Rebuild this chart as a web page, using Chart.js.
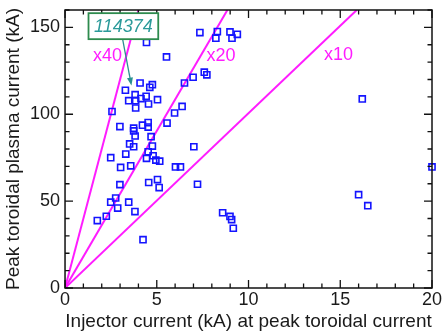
<!DOCTYPE html>
<html><head><meta charset="utf-8">
<script src="https://cdn.jsdelivr.net/npm/chart.js@4"></script>
<style>html,body{margin:0;padding:0;background:#fff}#wrap{width:448px;height:331px}</style>
</head><body><div id="wrap"><canvas id="c" width="448" height="331"></canvas></div>
<script>
// Injector current (kA) at peak toroidal current
const shotX = [4.44,5.53,7.35,8.3,8.22,8.99,9.39,9.1,7.59,7.73,6.98,6.51,4.09,4.76,4.62,3.29,3.82,4.42,4.14,3.47,3.85,5.04,4.55,3.85,2.56,6.38,5.97,5.56,2.99,4.22,4.53,4.53,3.74,3.74,3.82,4.69,3.52,3.74,4.76,7.02,4.53,3.31,2.49,4.44,4.8,4.95,5.16,3.03,3.58,6.02,6.29,2.99,4.56,5.04,5.13,7.22,2.76,2.49,3.47,2.87,3.81,2.25,1.76,4.25,8.59,8.99,9.08,9.17,16.2,20.0,16.0,16.5];
// Peak toroidal plasma current (kA)
const shotY = [141.3,133,147,147.6,143.8,147.4,146,143.8,124.2,122.7,121.3,118,118,117,115.5,113.8,111.3,110.3,109,107.8,107.8,108.4,105.9,103.6,101.6,104.5,100.7,94.9,92.9,93.7,95.2,92.6,92,90.4,87.5,87.1,82.9,81.3,81.7,81.3,78.4,77.1,75,74.6,76.1,73.6,73,69.4,70.3,69.7,69.7,59.5,60.7,62.4,57.8,59.7,51.8,49.4,49.4,46,44,41.3,38.8,27.8,43.3,41.2,39.4,34.4,108.8,69.7,53.7,47.4];
const xTickValues = [0,5,10,15,20];
const yTickValues = [0,50,100,150];
// gain lines (as drawn in the figure)
const ratioLabels = ['x10','x20','x40'];
const ratioEndX = [15.9, 8.85, 4.0];
const ratioEndY = [160, 160, 160];

// annotation anchors (data coordinates)
const ratioLabelPos = [[14.9,134],[8.5,133.3],[2.32,133.3]];
const annotText = '114374';
const annotCenter = [3.18,150.7];
const annotArrowFrom = [3.13,143.6];
const annotArrowTo = [3.62,116.5];

const FONT = '"Liberation Sans", Arial, sans-serif';
const MAGENTA = '#ff1cff';

const points = shotX.map((v,i)=>({x:v,y:shotY[i]}));
const lineSets = ratioLabels.map((lab,i)=>({
  type:'line', label:lab,
  data:[{x:0,y:0},{x:ratioEndX[i],y:ratioEndY[i]}],
  borderColor:MAGENTA, borderWidth:2, pointRadius:0, showLine:true, fill:false, order:2
}));

const deco = {
  id:'deco',
  afterDatasetsDraw(chart){
    const {ctx, chartArea:a, scales:{x,y}} = chart;
    ctx.save();
    ctx.font = '18px ' + FONT;
    ctx.fillStyle = MAGENTA;
    ctx.textAlign='center'; ctx.textBaseline='middle';
    ratioLabels.forEach((lab,i)=>{
      ctx.fillText(lab, x.getPixelForValue(ratioLabelPos[i][0]), y.getPixelForValue(ratioLabelPos[i][1]));
    });
    ctx.strokeStyle='#111'; ctx.lineWidth=1.5;
    ctx.strokeRect(a.left,a.top,a.right-a.left,a.bottom-a.top);
    ctx.lineWidth=1.3;
    ctx.beginPath();
    for(let v=0; v<=20; v+=1){
      const px = x.getPixelForValue(v);
      const len = (v%5===0)?8:4.5;
      ctx.moveTo(px,a.bottom); ctx.lineTo(px,a.bottom-len);
      ctx.moveTo(px,a.top); ctx.lineTo(px,a.top+len);
    }
    for(let v=0; v<=160; v+=10){
      const py = y.getPixelForValue(v);
      const len = (v%50===0)?8:4.5;
      ctx.moveTo(a.left,py); ctx.lineTo(a.left+len,py);
      ctx.moveTo(a.right,py); ctx.lineTo(a.right-len,py);
    }
    ctx.stroke();
    const x1=x.getPixelForValue(annotArrowFrom[0]), y1=y.getPixelForValue(annotArrowFrom[1]);
    const x2=x.getPixelForValue(annotArrowTo[0]), y2=y.getPixelForValue(annotArrowTo[1]);
    const ang=Math.atan2(y2-y1,x2-x1);
    ctx.strokeStyle='#2a9090'; ctx.fillStyle='#2a9090'; ctx.lineWidth=1.3;
    ctx.beginPath(); ctx.moveTo(x1,y1); ctx.lineTo(x2-6*Math.cos(ang),y2-6*Math.sin(ang)); ctx.stroke();
    ctx.beginPath();
    ctx.moveTo(x2,y2);
    ctx.lineTo(x2-8*Math.cos(ang)+3*Math.sin(ang), y2-8*Math.sin(ang)-3*Math.cos(ang));
    ctx.lineTo(x2-8*Math.cos(ang)-3*Math.sin(ang), y2-8*Math.sin(ang)+3*Math.cos(ang));
    ctx.closePath(); ctx.fill();
    const cx=x.getPixelForValue(annotCenter[0]), cy=y.getPixelForValue(annotCenter[1]);
    ctx.font='italic 18px ' + FONT;
    const tw=ctx.measureText(annotText).width;
    const bw=tw+11, bh=26;
    ctx.fillStyle='#fff';
    ctx.fillRect(cx-bw/2,cy-bh/2,bw,bh);
    ctx.strokeStyle='#2e8b4e'; ctx.lineWidth=1.8;
    ctx.strokeRect(cx-bw/2,cy-bh/2,bw,bh);
    ctx.fillStyle='#2b9a9a';
    ctx.textAlign='center'; ctx.textBaseline='middle';
    ctx.fillText(annotText,cx,cy+1);
    ctx.restore();
  }
};

new Chart(document.getElementById('c'),{
  type:'scatter',
  data:{datasets:[
    {label:'shots', data:points, pointStyle:'rect', pointRadius:4.3, pointHoverRadius:4.3,
     borderColor:'#1414ff', backgroundColor:'rgba(255,255,255,0)', pointBorderWidth:1.6, borderWidth:1.6, clip:false, order:1},
    ...lineSets
  ]},
  options:{
    responsive:false, animation:false, devicePixelRatio:1,
    layout:{padding:{left:0,right:16,top:10,bottom:0}},
    plugins:{legend:{display:false},tooltip:{enabled:false}},
    scales:{
      x:{type:'linear',min:0,max:20,
        afterBuildTicks:s=>{s.ticks=xTickValues.map(v=>({value:v}));},
        ticks:{font:{family:FONT,size:18,lineHeight:1},color:'#1a1a1a',padding:3,maxRotation:0},
        grid:{display:false,drawTicks:false},border:{display:false},
        title:{display:true,text:'Injector current (kA) at peak toroidal current',color:'#1a1a1a',
          font:{family:FONT,size:19,lineHeight:1},padding:{top:0,bottom:0}}},
      y:{type:'linear',min:0,max:160,
        afterBuildTicks:s=>{s.ticks=yTickValues.map(v=>({value:v}));},
        ticks:{font:{family:FONT,size:18,lineHeight:0.5},color:'#1a1a1a',padding:5},
        grid:{display:false,drawTicks:false},border:{display:false},
        title:{display:true,text:'Peak toroidal plasma current (kA)',color:'#1a1a1a',
          font:{family:FONT,size:19,lineHeight:1},padding:{top:4,bottom:2}}}
    }
  },
  plugins:[deco]
});
</script></body></html>
